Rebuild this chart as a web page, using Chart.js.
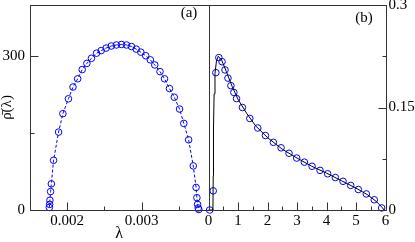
<!DOCTYPE html>
<html>
<head>
<meta charset="utf-8">
<script src="https://cdn.jsdelivr.net/npm/chart.js@4/dist/chart.umd.min.js"></script>
<style>
    html, body { margin: 0; padding: 0; background: #fff; }
    #wrap { position: relative; width: 415px; height: 242px; }
    #wrap canvas { position: absolute; left: 0; top: 0; }
</style>
</head>
<body>
<div id="wrap">
    <canvas id="chartA" width="415" height="242"></canvas>
    <canvas id="chartB" width="415" height="242"></canvas>
</div>
<script>
// Panel (a): density of eigenvalues
const aX = [0.00176, 0.001764, 0.001768, 0.001777, 0.001787, 0.001817, 0.001884, 0.001942, 0.002017, 0.002078,
            0.002141, 0.002202, 0.002265, 0.002326, 0.002395, 0.002457, 0.002524, 0.002593, 0.002662, 0.00273,
            0.002797, 0.002864, 0.002928, 0.00299, 0.003056, 0.003118, 0.003178, 0.003248, 0.003309, 0.003375,
            0.00344, 0.003511, 0.003568, 0.003633, 0.003695, 0.003733, 0.003744, 0.003753, 0.003762, 0.00377];
const aY = [5, 11, 19, 36, 51, 97, 152, 188, 217, 240,
            256, 274, 286, 296, 306, 311, 316, 320, 322, 323,
            322, 319, 314, 308, 301, 293, 283, 270, 256, 237,
            220, 197, 169, 137, 86, 44, 24, 11, 4, 1];
const aXTicks = [0.002, 0.003];
const aXMinor = [0.0025, 0.0035];
const aYTicks = [0, 300];
const aYMinor = [150];

// Panel (b): simulation (circles) and theory (line)
const bX = [0.04, 0.16, 0.25, 0.35, 0.46, 0.56, 0.66, 0.76, 0.86, 0.95,
            1.15, 1.4, 1.67, 1.93, 2.2, 2.46, 2.73, 2.99, 3.25, 3.51,
            3.78, 4.04, 4.3, 4.56, 4.82, 5.08, 5.35, 5.62, 5.87];
const bY = [0, 0.028, 0.201, 0.223, 0.217, 0.205, 0.193, 0.182, 0.172, 0.163,
            0.15, 0.134, 0.12, 0.109, 0.099, 0.091, 0.083, 0.076, 0.07, 0.064,
            0.058, 0.053, 0.0475, 0.042, 0.036, 0.03, 0.0235, 0.015, 0.003];
const theoryX = [0, 0.15, 0.16, 0.17, 0.19, 0.22, 0.27, 0.33, 0.45, 0.6, 0.8, 1.0, 1.3, 1.6, 2.0,
                 2.5, 3.0, 3.5, 4.0, 4.5, 5.0, 5.4, 5.7, 5.9, 5.95];
const theoryY = [0, 0, 0.05, 0.12, 0.17, 0.2, 0.218, 0.225, 0.219, 0.203, 0.181, 0.162, 0.141, 0.123, 0.106,
                 0.089, 0.076, 0.064, 0.054, 0.043, 0.032, 0.022, 0.012, 0.003, 0];
const bXTicks = [0, 1, 2, 3, 4, 5, 6];
const bXMinor = [0.5, 1.5, 2.5, 3.5, 4.5, 5.5];
const bYTicks = [0, 0.15, 0.3];
const bYMinor = [0.075, 0.225];

const SERIF = "'Liberation Serif', 'Times New Roman', serif";
Chart.defaults.font.family = SERIF;
Chart.defaults.color = '#000';

const toPoints = (xs, ys) => xs.map((x, i) => ({ x: x, y: ys[i] }));
const fixedTicks = list => scale => { scale.ticks = list.map(v => ({ value: v })); };
const noPad = s => { s.paddingTop = 0; s.paddingBottom = 0; s.paddingLeft = 0; s.paddingRight = 0; };

// frame, inward tick marks and panel label
const frameTicks = {
    id: 'frameTicks',
    afterDraw(chart, args, opts) {
        const { ctx, chartArea: a, scales } = chart;
        const px = v => Math.round(v) + 0.5;
        const L = px(a.left), R = px(a.right), T = px(a.top), B = px(a.bottom);
        ctx.save();
        ctx.strokeStyle = '#333';
        ctx.lineWidth = 1;
        ctx.strokeRect(L, T, R - L, B - T);
        ctx.beginPath();
        const xTick = (v, len) => { const x = px(scales.x.getPixelForValue(v)); ctx.moveTo(x, B); ctx.lineTo(x, B - len); };
        const yTick = (v, len) => {
            const y = px(scales.y.getPixelForValue(v));
            if (opts.side === 'right') { ctx.moveTo(R, y); ctx.lineTo(R - len, y); }
            else { ctx.moveTo(L, y); ctx.lineTo(L + len, y); }
        };
        opts.xMajor.forEach(v => xTick(v, 8));
        opts.xMinor.forEach(v => xTick(v, 4));
        opts.yMajor.forEach(v => yTick(v, 8));
        opts.yMinor.forEach(v => yTick(v, 4));
        ctx.stroke();
        ctx.fillStyle = '#000';
        ctx.font = '15px ' + SERIF;
        ctx.textAlign = 'center';
        ctx.textBaseline = 'middle';
        ctx.fillText(opts.label, a.right - opts.labelDx, a.top + opts.labelDy);
        ctx.restore();
    }
};
Chart.register(frameTicks);

const tickFont = { family: SERIF, size: 15 };

new Chart(document.getElementById('chartA'), {
    type: 'scatter',
    data: {
        datasets: [{
            data: toPoints(aX, aY),
            showLine: true,
            borderColor: '#0000ff',
            borderWidth: 1,
            borderDash: [3, 2],
            pointRadius: 3.3,
            pointBorderWidth: 1,
            pointBorderColor: '#0000ff',
            pointBackgroundColor: 'rgba(0,0,0,0)',
            clip: false
        }]
    },
    options: {
        responsive: false,
        animation: false,
        devicePixelRatio: 1,
        layout: { autoPadding: false, padding: { left: 0, right: 206.5, top: 5, bottom: 0 } },
        plugins: {
            legend: { display: false },
            tooltip: { enabled: false },
            frameTicks: { xMajor: aXTicks, xMinor: aXMinor, yMajor: aYTicks, yMinor: aYMinor, side: 'left', label: '(a)', labelDx: 19.5, labelDy: 8.5 }
        },
        scales: {
            x: {
                type: 'linear', min: 0.0015, max: 0.0039,
                afterBuildTicks: fixedTicks(aXTicks),
                afterFit: s => { noPad(s); s.height = 32; },
                grid: { display: false, drawTicks: false },
                border: { display: false },
                ticks: { padding: 2, font: tickFont, maxRotation: 0, autoSkip: false, callback: v => String(v) },
                title: { display: true, text: 'λ', font: { family: SERIF, size: 16, lineHeight: 1 }, padding: 0 }
            },
            y: {
                type: 'linear', min: 0, max: 400,
                afterBuildTicks: fixedTicks(aYTicks),
                afterFit: s => { noPad(s); s.width = 30; },
                grid: { display: false, drawTicks: false },
                border: { display: false },
                ticks: { padding: 5, font: tickFont, callback: v => String(v) },
                title: { display: true, text: 'ρ\u0304(λ)', font: { family: SERIF, size: 15, lineHeight: 1 }, padding: 0 }
            }
        }
    }
});

new Chart(document.getElementById('chartB'), {
    type: 'scatter',
    data: {
        datasets: [{
            data: toPoints(theoryX, theoryY),
            showLine: true,
            borderColor: '#000',
            borderWidth: 1,
            pointRadius: 0,
            clip: false
        }, {
            data: toPoints(bX, bY),
            showLine: false,
            pointRadius: 3.3,
            pointBorderWidth: 1,
            pointBorderColor: '#0000ff',
            pointBackgroundColor: 'rgba(0,0,0,0)',
            clip: false
        }]
    },
    options: {
        responsive: false,
        animation: false,
        devicePixelRatio: 1,
        layout: { autoPadding: false, padding: { left: 208.5, right: 0, top: 5, bottom: 0 } },
        plugins: {
            legend: { display: false },
            tooltip: { enabled: false },
            frameTicks: { xMajor: bXTicks, xMinor: bXMinor, yMajor: bYTicks, yMinor: bYMinor, side: 'right', label: '(b)', labelDx: 21.5, labelDy: 13.5 }
        },
        scales: {
            x: {
                type: 'linear', min: 0, max: 6,
                afterBuildTicks: fixedTicks(bXTicks),
                afterFit: s => { noPad(s); s.height = 32; },
                grid: { display: false, drawTicks: false },
                border: { display: false },
                ticks: { padding: 2, font: tickFont, maxRotation: 0, autoSkip: false, callback: v => String(v) }
            },
            y: {
                type: 'linear', position: 'right', min: 0, max: 0.3,
                afterBuildTicks: fixedTicks(bYTicks),
                afterFit: s => { noPad(s); s.width = 29.5; },
                grid: { display: false, drawTicks: false },
                border: { display: false },
                ticks: { padding: 3, font: tickFont, callback: v => String(v) }
            }
        }
    }
});
</script>
</body>
</html>
